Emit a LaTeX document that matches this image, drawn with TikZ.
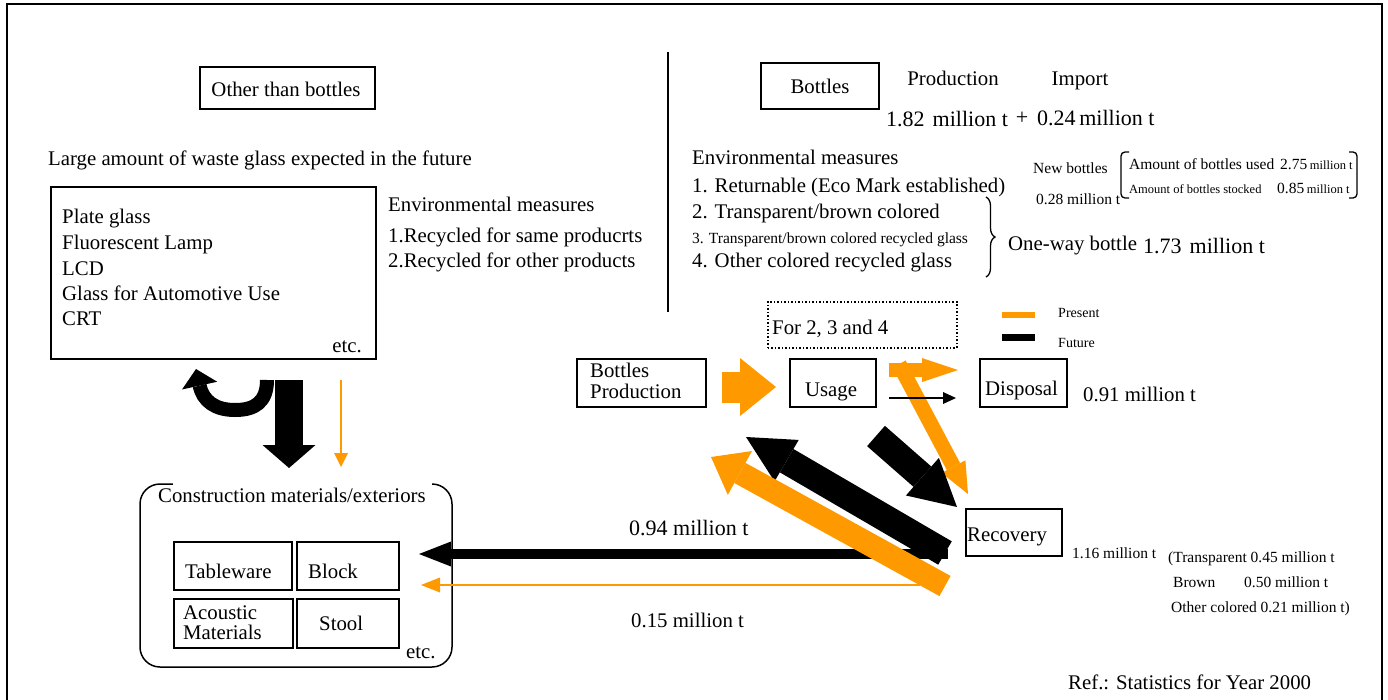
\documentclass[tikz,border=0pt]{standalone}
\usepackage{fontspec}
\setmainfont{Liberation Serif}
\usetikzlibrary{arrows.meta,decorations.pathreplacing}
\definecolor{orng}{RGB}{255,153,0}
\newcommand\fsM{\fontsize{20.8}{25}\selectfont}
\newcommand\fsL{\fontsize{22}{26}\selectfont}
\newcommand\fsS{\fontsize{15.5}{18}\selectfont}
\newcommand\fsXS{\fontsize{12.5}{15}\selectfont}
\begin{document}
\begin{tikzpicture}[x=1pt,y=-1pt,
  box/.style={draw, line width=1.5pt, inner sep=0pt, anchor=north west},
  txt/.style={inner sep=0pt, anchor=base west, font=\fsM},
  stxt/.style={inner sep=0pt, anchor=base west, font=\fsS},
  ltxt/.style={inner sep=0pt, anchor=base west, font=\fsL}]
\useasboundingbox (0,0) rectangle (1388,699);
% frame
\draw[line width=2pt] (7,710) -- (7,4) -- (1382,4) -- (1382,710);
\draw[line width=1.5pt] (668,52) -- (668,312);

% ---------- left part ----------
\node[box, minimum width=175pt, minimum height=42pt] (other) at (199,66) {};
\node[txt, anchor=base] (otherT) at (286,96) {Other than bottles};
\node[txt] (large) at (48,165) {Large amount of waste glass expected in the future};
\node[box, minimum width=325pt, minimum height=172pt] (kinds) at (50,186) {};
\node[txt] (k1) at (62,223) {Plate glass};
\node[txt] (k2) at (62,249) {Fluorescent Lamp};
\node[txt] (k3) at (62,275) {LCD};
\node[txt] (k4) at (62,300) {Glass for Automotive Use};
\node[txt] (k5) at (62,325) {CRT};
\node[txt, anchor=base east] (k6) at (362,352) {etc.};
\node[txt] (em1) at (388,211) {Environmental measures};
\node[txt] (em2) at (388,242) {1.Recycled for same producrts};
\node[txt] (em3) at (388,267) {2.Recycled for other products};

% left arrows
\coordinate (uS) at (267,380);
\coordinate (uE) at (196,369);
\draw[line width=14pt, -{Triangle[length=17pt,width=36pt,line width=0pt]}]
  (uS) .. controls (267,402) and (255,410) .. (235,410)
       .. controls (215,410) and (203,401) .. (uE);
\coordinate (dS) at (289,380);
\coordinate (dE) at (289,468);
\draw[line width=28pt, -{Triangle[length=23pt,width=53pt,line width=0pt]}] (dS) -- (dE);
\coordinate (oS) at (341,380);
\coordinate (oE) at (341,467);
\draw[orng, line width=1.8pt, -{Triangle[length=14pt,width=14pt,line width=0pt]}] (oS) -- (oE);

% construction materials
\draw[line width=1.5pt, rounded corners=20pt] (140,484) rectangle (452,667);
\fill[white] (173,480) rectangle (432,489);
\node[txt] (cm) at (158,502) {Construction materials/exteriors};
\node[box, minimum width=118pt, minimum height=48pt] (tw) at (173,541) {};
\node[box, minimum width=102pt, minimum height=48pt] (bl) at (296,541) {};
\node[box, minimum width=119pt, minimum height=49pt] (ac) at (173,598) {};
\node[box, minimum width=102pt, minimum height=49pt] (st) at (296,598) {};
\node[txt] (twT) at (185,578) {Tableware};
\node[txt] (blT) at (308,578) {Block};
\node[txt] (acT1) at (183,619) {Acoustic};
\node[txt] (acT2) at (183,639) {Materials};
\node[txt] (stT) at (319,630) {Stool};
\node[txt] (cmE) at (406,658) {etc.};

% ---------- right part ----------
\node[box, minimum width=118pt, minimum height=46pt] (bottles) at (760,62) {};
\node[txt, anchor=base] (bottlesT) at (820,93) {Bottles};
\node[txt, anchor=base] (prod) at (953,85) {Production};
\node[txt, anchor=base] (imp) at (1080,85) {Import};
\node[ltxt] (v182) at (886,126) {1.82\hspace{8pt}million t};
\node[ltxt, anchor=base] (plus) at (1022,124) {+};
\node[ltxt] (v024) at (1037,125) {0.24\,million t};

\node[txt] (r0) at (692,164) {Environmental measures};
\node[txt] (r1) at (692,192) {1. Returnable (Eco Mark established)};
\node[txt] (r2) at (692,218) {2. Transparent/brown colored};
\node[stxt] (r3) at (692,243) {3. Transparent/brown colored recycled glass};
\node[txt] (r4) at (692,267) {4. Other colored recycled glass};
\draw[line width=1.3pt, decorate, decoration={brace, amplitude=9pt}] (986,197) -- (986,277);
\node[txt] (oneway) at (1008,250) {One-way bottle};
\node[ltxt] (v173) at (1143,253) {1.73\hspace{8pt}million t};

\node[stxt] (newb) at (1033,173) {New bottles};
\node[stxt] (v028) at (1036,204) {0.28 million t};
\draw[line width=1.3pt, rounded corners=4pt] (1129,152) -- (1121,152) -- (1121,198) -- (1129,198);
\draw[line width=1.3pt, rounded corners=4pt] (1349,152) -- (1357,152) -- (1357,198) -- (1349,198);
\node[stxt] (used) at (1129,169) {Amount of bottles used};
\node[stxt] (v275) at (1280,169) {2.75\,{\fsXS million t}};
\node[inner sep=0pt, anchor=base west, font=\fsXS] (stock) at (1129,193) {Amount of bottles stocked};
\node[stxt] (v085) at (1277,193) {0.85\,{\fsXS million t}};

% legend
\fill[orng] (1002,312) rectangle (1035,318);
\fill[black] (1002,334) rectangle (1035,341);
\node[inner sep=0pt, anchor=base west, font=\fontsize{14}{16}\selectfont] (lgP) at (1058,317) {Present};
\node[inner sep=0pt, anchor=base west, font=\fontsize{14}{16}\selectfont] (lgF) at (1058,347) {Future};

\node[box, dotted, minimum width=189pt, minimum height=46pt] (for) at (767,301) {};
\node[txt] (forT) at (772,334) {For 2, 3 and 4};

\node[box, minimum width=129pt, minimum height=48pt] (bp) at (576,358) {};
\node[txt] (bpT1) at (590,377) {Bottles};
\node[txt] (bpT2) at (590,398) {Production};
\node[box, minimum width=86pt, minimum height=48pt] (usage) at (789,358) {};
\node[txt, anchor=base] (usageT) at (831,396) {Usage};
\node[box, minimum width=87pt, minimum height=48pt] (disp) at (979,358) {};
\node[txt] (dispT) at (985,395) {Disposal};
\node[txt] (v091) at (1083,401) {0.91 million t};
\node[box, minimum width=96pt, minimum height=47pt] (rec) at (965,508) {};
\node[txt] (recT) at (967,541) {Recovery};
\node[stxt] (v116) at (1072,558) {1.16 million t};
\node[stxt] (tr) at (1168,562) {(Transparent 0.45 million t};
\node[stxt] (br) at (1173,587) {Brown};
\node[stxt] (brv) at (1244,587) {0.50 million t};
\node[stxt] (oc) at (1171,612) {Other colored 0.21 million t)};
\node[txt] (ref) at (1068,689) {Ref.: Statistics for Year 2000};
\node[ltxt] (v094) at (629,535) {0.94 million t};
\node[txt] (v015) at (631,627) {0.15 million t};

% flow arrows
\coordinate (a1s) at (722,387); \coordinate (a1e) at (776,387);
\draw[orng, line width=31pt, -{Triangle[length=36pt,width=58pt,line width=0pt]}] (a1s) -- (a1e);
\coordinate (a2s) at (889,370); \coordinate (a2e) at (958,370);
\draw[orng, line width=14pt, -{Triangle[length=36pt,width=24pt,line width=0pt]}] (a2s) -- (a2e);
\coordinate (a3s) at (899,364); \coordinate (a3e) at (968,494);
\draw[orng, line width=15pt, -{Triangle[length=31pt,width=27pt,line width=0pt]}] (a3s) -- (a3e);
\coordinate (a5s) at (876,436); \coordinate (a5e) at (957,507);
\draw[line width=27pt, -{Triangle[length=46pt,width=50pt,line width=0pt]}] (a5s) -- (a5e);
\coordinate (a4s) at (889,398); \coordinate (a4e) at (956,398);
\draw[line width=2pt, -{Triangle[length=13pt,width=12pt,line width=0pt]}] (a4s) -- (a4e);

\coordinate (h1s) at (948,554); \coordinate (h1e) at (419,554);
\draw[line width=10pt, -{Triangle[length=32pt,width=25pt,line width=0pt]}] (h1s) -- (h1e);
\coordinate (h2s) at (920,585); \coordinate (h2e) at (421,585);
\draw[orng, line width=2.5pt, -{Triangle[length=19pt,width=15pt,line width=0pt]}] (h2s) -- (h2e);

\coordinate (d1s) at (945,553); \coordinate (d1e) at (746,437);
\draw[line width=27pt, -{Triangle[length=47pt,width=48pt,line width=0pt]}] (d1s) -- (d1e);
\coordinate (d2s) at (945,586); \coordinate (d2e) at (711,457);
\draw[orng, line width=23pt, -{Triangle[length=33pt,width=50pt,line width=0pt]}] (d2s) -- (d2e);
\end{tikzpicture}
\end{document}
